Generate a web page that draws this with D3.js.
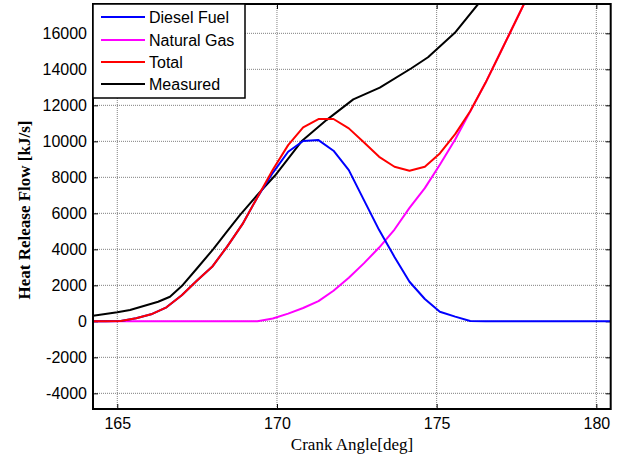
<!DOCTYPE html>
<html><head><meta charset="utf-8">
<script src="https://cdn.jsdelivr.net/npm/d3@7"></script>
<style>html,body{margin:0;padding:0;background:#fff;}svg{display:block;}</style>
</head><body>
<svg id="chart" width="627" height="462"></svg>
<script>
// Model grid (crank angle, deg)
const angles = [164.16,164.64,165.11,165.59,166.06,166.54,167.02,167.49,167.97,168.44,168.92,169.39,169.87,170.35,170.82,171.30,171.77,172.25,172.72,173.20,173.68,174.15,174.63,175.10,175.58,176.05,176.53,177.00,177.48,177.96,178.43,178.91,179.38,179.86,180.34,180.81];
const diesel = [0,0,20,170,390,780,1450,2250,3030,4150,5400,6900,8250,9420,10020,10070,9480,8400,6750,5070,3580,2200,1240,530,260,20,0,0,0,0,0,0,0,0,0,0];
const naturalGas = [0,0,0,0,0,0,0,0,0,0,0,0,160,430,740,1120,1700,2420,3220,4100,5100,6300,7400,8700,10100,11650,13250,14950,16700,18450,20200,22000,23800,25600,27400,29200];
const total = [0,0,20,170,390,780,1450,2250,3030,4150,5400,6900,8420,9790,10780,11240,11240,10720,9950,9140,8590,8370,8590,9330,10400,11670,13250,14950,16700,18450,20200,22000,23800,25600,27400,29200];
// Measured (own sampling)
const measuredAngles = [164.16,164.24,165.00,165.40,166.28,166.65,167.02,167.50,168.00,168.42,168.84,169.40,169.94,170.77,171.55,172.39,173.22,174.21,174.73,175.57,176.30,176.98];
const measured = [290,311,500,628,1089,1367,1960,2950,4000,4950,5900,7050,8100,10000,11180,12330,12980,14060,14670,16030,17630,19200];

const xTicks = [165,170,175,180];
const yTicks = [-4000,-2000,0,2000,4000,6000,8000,10000,12000,14000,16000];
const seriesNames = ["Diesel Fuel","Natural Gas","Total","Measured"];
const seriesColors = ["#0000ff","#ff00ff","#ff0000","#000000"];

const L = 93, R = 610.7, T = 4, B = 409;
const svg = d3.select("#chart");
const x = d3.scaleLinear().domain([164.24, 180.45]).range([L, R]);
const y = d3.scaleLinear().domain([-4870, 17630]).range([B, T]);

svg.append("defs").append("clipPath").attr("id","clip")
  .append("rect").attr("x",L).attr("y",T).attr("width",R-L).attr("height",B-T);

// grid
const grid = svg.append("g").attr("stroke","#808080").attr("stroke-width",1).attr("stroke-dasharray","1,1");
xTicks.forEach(t=>grid.append("line").attr("x1",x(t)).attr("x2",x(t)).attr("y1",T).attr("y2",B));
yTicks.forEach(t=>grid.append("line").attr("x1",L).attr("x2",R).attr("y1",y(t)).attr("y2",y(t)));

// axes
const fontSans = "'Liberation Sans', Arial, sans-serif";
const fmt = d => String(d);
const ax = svg.append("g").attr("transform",`translate(0,${B})`)
  .call(d3.axisBottom(x).tickValues(xTicks).tickFormat(fmt).tickSizeInner(-5).tickSizeOuter(0).tickPadding(9));
const ay = svg.append("g").attr("transform",`translate(${L},0)`)
  .call(d3.axisLeft(y).tickValues(yTicks).tickFormat(fmt).tickSizeInner(-5).tickSizeOuter(0).tickPadding(6));
const axTop = svg.append("g").attr("transform",`translate(0,${T})`)
  .call(d3.axisTop(x).tickValues(xTicks).tickSizeInner(-5).tickSizeOuter(0).tickFormat(""));
const ayR = svg.append("g").attr("transform",`translate(${R},0)`)
  .call(d3.axisRight(y).tickValues(yTicks).tickSizeInner(-5).tickSizeOuter(0).tickFormat(""));
[ax,ay,axTop,ayR].forEach(g=>{
  g.select(".domain").remove();
  g.selectAll("line").attr("stroke","#000").attr("stroke-width",1);
  g.selectAll("text").attr("font-family",fontSans).attr("font-size","16px").attr("fill","#000");
});
ax.selectAll("text").attr("dy","0.71em");

// lines
const line = (xs) => d3.line().x((d,i)=>x(xs[i])).y(d=>y(d));
const plot = svg.append("g").attr("clip-path","url(#clip)").attr("fill","none").attr("stroke-width",2).attr("stroke-linejoin","round");
plot.append("path").datum(measured).attr("d", line(measuredAngles)).attr("stroke",seriesColors[3]);
plot.append("path").datum(naturalGas).attr("d", line(angles)).attr("stroke",seriesColors[1]);
plot.append("path").datum(diesel).attr("d", line(angles)).attr("stroke",seriesColors[0]);
plot.append("path").datum(total).attr("d", line(angles)).attr("stroke",seriesColors[2]);

// frame
svg.append("rect").attr("x",L).attr("y",T).attr("width",R-L).attr("height",B-T)
  .attr("fill","none").attr("stroke","#000").attr("stroke-width",2);

// legend
const lg = svg.append("g");
lg.append("rect").attr("x",L).attr("y",T).attr("width",152).attr("height",94)
  .attr("fill","#fff").attr("stroke","#000").attr("stroke-width",1.5);
const rowY = [17,40,62,84];
seriesNames.forEach((n,i)=>{
  lg.append("line").attr("x1",101).attr("x2",145).attr("y1",rowY[i]).attr("y2",rowY[i])
    .attr("stroke",seriesColors[i]).attr("stroke-width",2);
  lg.append("text").attr("x",149).attr("y",rowY[i]).attr("dy","0.36em")
    .attr("font-family",fontSans).attr("font-size","16px").attr("fill","#000").text(n);
});

// axis labels
svg.append("text").attr("x",352).attr("y",450).attr("text-anchor","middle")
  .attr("font-family","'Liberation Serif','Times New Roman',serif").attr("font-size","17px").text("Crank Angle[deg]");
svg.append("text").attr("transform","translate(30,210) rotate(-90)").attr("text-anchor","middle")
  .attr("font-family","'Liberation Serif','Times New Roman',serif").attr("font-weight","bold").attr("font-size","17px")
  .text("Heat Release Flow [kJ/s]");
</script>
</body></html>
